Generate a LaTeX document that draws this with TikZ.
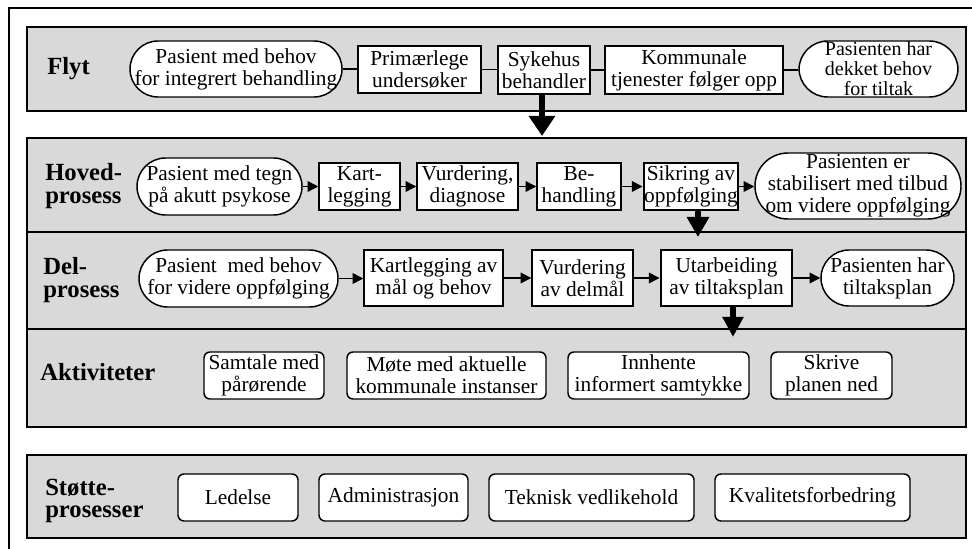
\documentclass[tikz,border=0pt]{standalone}
\usepackage{fontspec}
\setmainfont{Liberation Serif}
\usetikzlibrary{arrows.meta}
\definecolor{band}{RGB}{217,217,217}
\newcommand\bx[7]{\node[#1, minimum width={(#5-#3)*0.75pt}, minimum height={(#6-#4)*0.75pt}] (#2) at ({(#3+#5)/2},{(#4+#6)/2}) {#7};}
\begin{document}
\begin{tikzpicture}[x=0.75pt,y=-0.75pt,
  txt/.style={font=\fontsize{16pt}{16.5pt}\selectfont, align=center, inner sep=0pt},
  box/.style={txt, draw, line width=1.1pt, fill=white},
  tbox/.style={box, line width=2.2pt},
  oval/.style={box, rounded corners=#1},
  rbox/.style={box, rounded corners=4.5pt},
  lbl/.style={font=\fontsize{18.5pt}{17pt}\selectfont\bfseries, align=left, anchor=west, inner sep=0pt},
  bandst/.style={draw, line width=1.1pt, fill=band},
  con/.style={line width=1.1pt},
  arr/.style={line width=1.1pt, -{Triangle[length=8pt,width=8pt]}},
  bigarr/.style={line width=4pt, -{Triangle[length=15pt,width=#1]}}
]
\useasboundingbox (0,0) rectangle (972,549);
\clip (0,0) rectangle (972,549);
\draw[line width=1.5pt] (9,8) rectangle (990,570);
% bands
\draw[bandst] (27,27) rectangle (966,111);
\draw[bandst] (27,138) rectangle (966,232);
\draw[bandst] (27,232) rectangle (966,329);
\draw[bandst] (27,329) rectangle (966,427);
\draw[bandst] (27,455) rectangle (966,538);
% labels
\node[lbl] (lflyt) at (47,69) {Flyt};
\node[lbl] (lhov) at (45,186) {Hoved-\\prosess};
\node[lbl] (ldel) at (43,280) {Del-\\prosess};
\node[lbl] (lakt) at (40,372) {Aktiviteter};
\node[lbl] (lsto) at (45,501) {Støtte-\\prosesser};
% Flyt
\bx{oval=21pt}{f1}{130}{41}{342}{97}{Pasient med behov\\for integrert behandling}
\bx{box}{f2}{358}{46}{481}{93}{Primærlege\\undersøker}
\bx{tbox}{f3}{498}{46}{590}{94}{Sykehus\\behandler}
\bx{box}{f4}{605}{46}{783}{94}{Kommunale\\tjenester følger opp}
\bx{oval=21.5pt, font=\fontsize{15pt}{15pt}\selectfont}{f5}{799}{41}{958}{97}{Pasienten har\\dekket behov\\for tiltak}
\draw[con] (f1.east) -- (f1.east -| f2.west);
\draw[con] (f2.east) -- (f2.east -| f3.west);
\draw[con] (f3.east) -- (f3.east -| f4.west);
\draw[con] (f4.east) -- (f4.east -| f5.west);
% Hovedprosess
\bx{oval=21.4pt}{h1}{137}{158}{302}{215}{Pasient med tegn\\på akutt psykose}
\bx{box}{h2}{319}{163}{400}{210}{Kart-\\legging}
\bx{box}{h3}{417}{163}{518}{210}{Vurdering,\\diagnose}
\bx{box}{h4}{537}{163}{621}{210}{Be-\\handling}
\bx{tbox}{h5}{644}{163}{738}{210}{Sikring av\\oppfølging}
\bx{oval=24.7pt}{h6}{755}{153}{961}{219}{Pasienten er\\stabilisert med tilbud\\om videre oppfølging}
\draw[arr] (h1.east) -- (h1.east -| h2.west);
\draw[arr] (h2.east) -- (h2.east -| h3.west);
\draw[arr] (h3.east) -- (h3.east -| h4.west);
\draw[arr] (h4.east) -- (h4.east -| h5.west);
\draw[arr] (h5.east) -- (h5.east -| h6.west);
% Delprosess
\bx{oval=21.4pt}{d1}{139}{250}{338}{307}{Pasient~ med behov\\for videre oppfølging}
\bx{box}{d2}{364}{250}{503}{306}{Kartlegging av\\mål og behov}
\bx{box}{d3}{532}{250}{633}{306}{Vurdering\\av delmål}
\bx{tbox}{d4}{661}{250}{792}{306}{Utarbeiding\\av tiltaksplan}
\bx{oval=21pt}{d5}{821}{250}{954}{306}{Pasienten har\\tiltaksplan}
\draw[arr] (d1.east) -- (d1.east -| d2.west);
\draw[arr] (d2.east) -- (d2.east -| d3.west);
\draw[arr] (d3.east) -- (d3.east -| d4.west);
\draw[arr] (d4.east) -- (d4.east -| d5.west);
% Aktiviteter
\bx{rbox}{a1}{204}{352}{324}{399}{Samtale med\\pårørende}
\bx{rbox}{a2}{347}{352}{546}{399}{Møte med aktuelle\\kommunale instanser}
\bx{rbox}{a3}{568}{352}{749}{399}{Innhente\\informert samtykke}
\bx{rbox}{a4}{771}{352}{892}{399}{Skrive\\planen ned}
% Støtteprosesser
\bx{rbox}{s1}{178}{474}{298}{521}{Ledelse}
\bx{rbox}{s2}{319}{474}{468}{521}{Administrasjon}
\bx{rbox}{s3}{489}{474}{694}{521}{Teknisk vedlikehold}
\bx{rbox}{s4}{715}{474}{910}{521}{Kvalitetsforbedring}
% big arrows
\coordinate (t1) at (542,136);
\coordinate (t2) at (698,237);
\coordinate (t3) at (733,337);
\draw[bigarr=19pt] (f3.south -| t1) -- (t1);
\draw[bigarr=16pt] (h5.south -| t2) -- (t2);
\draw[bigarr=15pt] (d4.south -| t3) -- (t3);
\end{tikzpicture}
\end{document}
